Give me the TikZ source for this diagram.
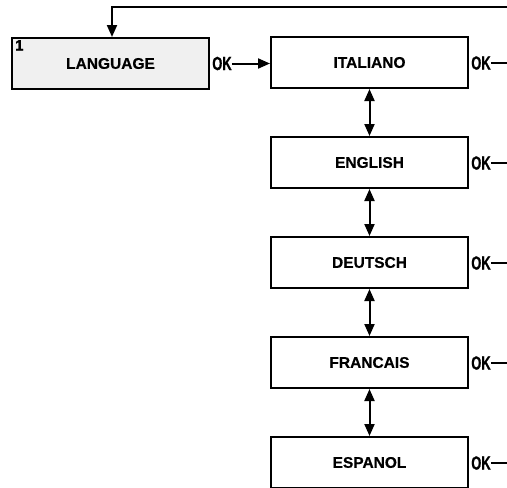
\documentclass[tikz,border=0pt]{standalone}
\usepackage{fontspec}
\usepackage{graphicx}
\setmainfont{Liberation Sans}
\newfontfamily\okfont[FakeBold=1]{Liberation Sans Bold}
\newfontfamily\menufont[FakeBold=0.5]{Liberation Sans Bold}
\newcommand{\oktext}{\scalebox{0.68}[1]{OK}}
\usetikzlibrary{arrows.meta}
\begin{document}
\begin{tikzpicture}[
    x=1pt, y=-1pt,
    menu/.style={draw, line width=2pt, minimum width=197pt, minimum height=51pt, font=\menufont\fontsize{15.5}{17}\selectfont},
    oklabel/.style={inner sep=0pt, font=\okfont\fontsize{19}{20}\selectfont},
    arrow/.style={-{Triangle[length=12pt, width=10pt]}, line width=2pt},
    dblarrow/.style={{Triangle[length=12pt, width=10pt]}-{Triangle[length=12pt, width=10pt]}, line width=2pt}
]
\useasboundingbox (0,0) rectangle (507,488);

% main menu entry
\node[menu, fill=gray!12] (lang) at (110.5, 63.5) {LANGUAGE};
\node[anchor=north west, inner sep=0pt, font=\okfont\fontsize{15}{16}\selectfont] (num) at ([shift={(4pt,-3pt)}]lang.north west) {1};
\node[oklabel] (ok0) at (222, 63.5) {\oktext};

% language choices
\node[menu] (ital) at (369.5, 62.5) {ITALIANO};
\node[menu] (engl) at (369.5, 162.5) {ENGLISH};
\node[menu] (deut) at (369.5, 262.5) {DEUTSCH};
\node[menu] (fran) at (369.5, 362.5) {FRANCAIS};
\node[menu] (espa) at (369.5, 462.5) {ESPANOL};

\node[oklabel] (ok1) at (481, 63) {\oktext};
\node[oklabel] (ok2) at (481, 163) {\oktext};
\node[oklabel] (ok3) at (481, 263) {\oktext};
\node[oklabel] (ok4) at (481, 363) {\oktext};
\node[oklabel] (ok5) at (481, 463) {\oktext};

\coordinate (ret) at (507, 7);
\coordinate (out1) at (507, 63);
\coordinate (out2) at (507, 163);
\coordinate (out3) at (507, 263);
\coordinate (out4) at (507, 363);
\coordinate (out5) at (507, 463);

% connectors
\draw[arrow] (ret) -| ([xshift=1.5pt]lang.north);
\draw[arrow] (ok0.east) -- (ok0.east -| ital.west);
\draw[line width=2pt] (ok1.east) -- (out1);
\draw[line width=2pt] (ok2.east) -- (out2);
\draw[line width=2pt] (ok3.east) -- (out3);
\draw[line width=2pt] (ok4.east) -- (out4);
\draw[line width=2pt] (ok5.east) -- (out5);
\draw[dblarrow] (ital.south) -- (engl.north);
\draw[dblarrow] (engl.south) -- (deut.north);
\draw[dblarrow] (deut.south) -- (fran.north);
\draw[dblarrow] (fran.south) -- (espa.north);
\end{tikzpicture}
\end{document}
